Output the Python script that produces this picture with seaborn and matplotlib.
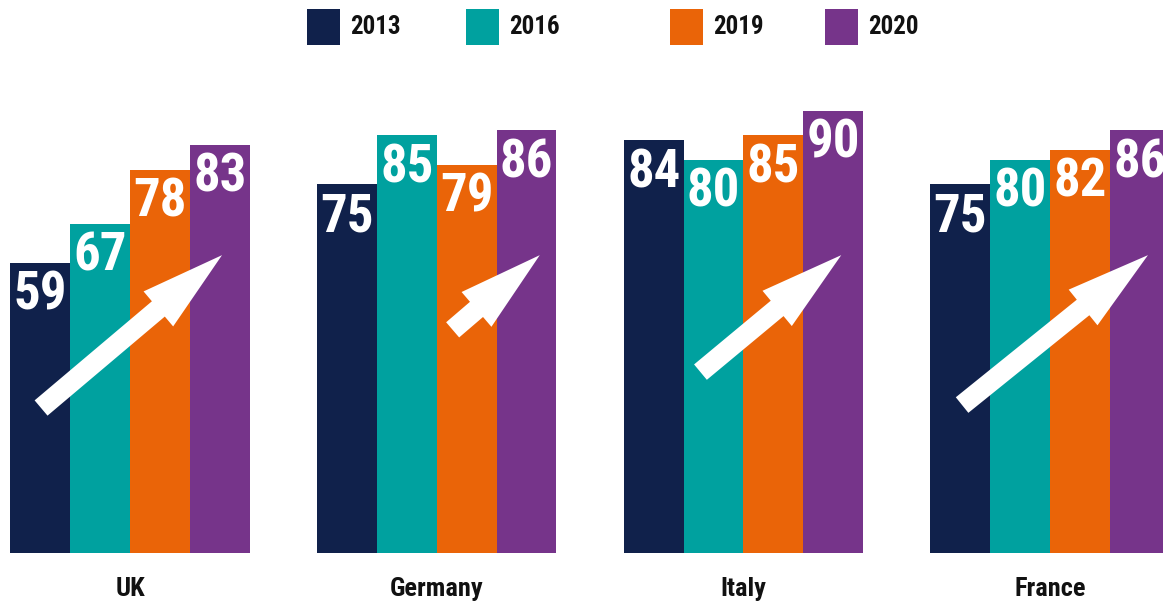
import matplotlib
matplotlib.use("Agg")
import matplotlib.pyplot as plt
import seaborn as sns
import pandas as pd
from matplotlib.patches import Rectangle

# ---- data ----
countries = ["UK", "Germany", "Italy", "France"]
years = ["2013", "2016", "2019", "2020"]
v2013 = [59, 75, 84, 75]
v2016 = [67, 85, 80, 80]
v2019 = [78, 79, 85, 82]
v2020 = [83, 86, 90, 86]
colors = ["#10214B", "#00A19F", "#EA6408", "#76348A"]

rows = []
for yr, vals in zip(years, [v2013, v2016, v2019, v2020]):
    for c, v in zip(countries, vals):
        rows.append({"country": c, "year": yr, "value": v})
df = pd.DataFrame(rows)

sns.set_theme(style="white")
FONT = ["Roboto Condensed", "DejaVu Sans"]
plt.rcParams["font.family"] = FONT

W, H = 1163, 603
fig = plt.figure(figsize=(W / 100, H / 100), dpi=100)
base_px = 553
px_per_unit = 4.915
group_px = 306.7
first_center_px = 130
ax = fig.add_axes([0, (H - base_px) / H, 1, base_px / H])

sns.barplot(data=df, x="country", y="value", hue="year", order=countries,
            hue_order=years, palette=colors, width=0.78, gap=0,
            saturation=1, legend=False, ax=ax, zorder=2, linewidth=0,
            edgecolor="none")

ax.set_ylim(0, base_px / px_per_unit)
ax.set_xlim(-first_center_px / group_px, (W - first_center_px) / group_px)
ax.axis("off")

# value labels
for cont in ax.containers:
    for bar in cont:
        h = bar.get_height()
        ax.annotate(f"{h:.0f}", (bar.get_x() + bar.get_width() / 2, h),
                    xytext=(0, -5), textcoords="offset points",
                    ha="center", va="top", color="white",
                    fontsize=38, fontweight="bold", family=FONT, zorder=5)

# decorative arrows (relative to group centre): (tail_dx, tail_y, tip_dx, tip_y)
arrows = [(-0.290, 29.5, 0.300, 60.6),
          (0.052, 45.4, 0.336, 60.6),
          (-0.140, 36.8, 0.319, 60.6),
          (-0.287, 30.1, 0.319, 60.6)]
for i, (tdx, ty, hdx, hy) in enumerate(arrows):
    ax.annotate("", xy=(i + hdx, hy), xytext=(i + tdx, ty),
                textcoords="data",
                arrowprops=dict(arrowstyle="simple,head_length=60,head_width=33,tail_width=14.4",
                                mutation_scale=1, color="white", lw=0,
                                shrinkA=0, shrinkB=0),
                zorder=4)

# category labels
for i, c in enumerate(countries):
    fig.text((first_center_px + i * group_px) / W, 1 - 589 / H, c,
             ha="center", va="center", fontsize=19, fontweight="bold",
             color="#111111", family=FONT)

# legend (manual)
leg_sq_x = [307, 466, 670, 825]
for x0, yr, col in zip(leg_sq_x, years, colors):
    fig.patches.append(Rectangle((x0 / W, 1 - 45 / H), 33 / W, 36 / H,
                                 transform=fig.transFigure, facecolor=col,
                                 edgecolor="none"))
    fig.text((x0 + 43) / W, 1 - 27 / H, yr, ha="left", va="center",
             fontsize=18, fontweight="bold", color="#111111", family=FONT)

fig.savefig("out.png", dpi=100)
